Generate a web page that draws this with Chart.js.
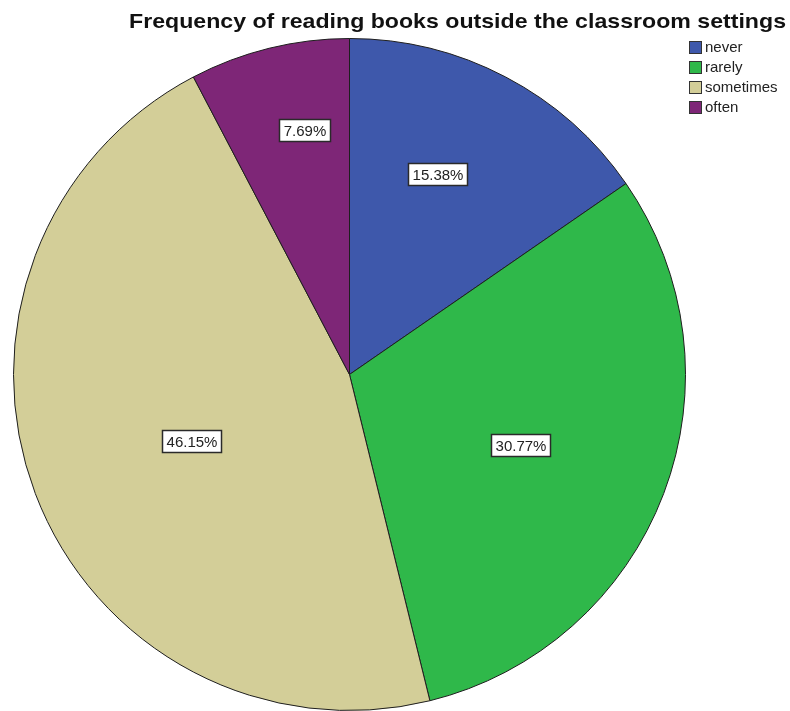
<!DOCTYPE html>
<html>
<head>
<meta charset="utf-8">
<script src="https://cdn.jsdelivr.net/npm/chart.js@4.4.1/dist/chart.umd.min.js"></script>
<style>
  html, body { margin: 0; padding: 0; background: #fff; }
  #wrap { width: 790px; height: 711px; }
</style>
</head>
<body>
<div id="wrap"><canvas id="pieChart" width="790" height="711"></canvas></div>
<script>
const title = 'Frequency of reading books outside the classroom settings';
const categories = ['never', 'rarely', 'sometimes', 'often'];
const percents = [15.38, 30.77, 46.15, 7.69];
const colors = ['#3e58ab', '#2fb84a', '#d3ce98', '#7e2677'];

// where each % box sits: fraction of radius and angle nudge (deg)
const labelSpots = [
  { r: 0.65, da: -4 },
  { r: 0.55, da: 1.5 },
  { r: 0.51, da: -2 },
  { r: 0.74, da: 3.5 }
];

const spssDecor = {
  id: 'spssDecor',
  afterDatasetsDraw(chart) {
    const ctx = chart.ctx;
    const meta = chart.getDatasetMeta(0);

    // percentage boxes
    ctx.save();
    ctx.font = '15px "Liberation Sans", Arial, sans-serif';
    ctx.textBaseline = 'middle';
    ctx.textAlign = 'center';
    meta.data.forEach((arc, i) => {
      const p = arc.getProps(['x', 'y', 'startAngle', 'endAngle', 'outerRadius']);
      const mid = (p.startAngle + p.endAngle) / 2 + labelSpots[i].da * Math.PI / 180;
      const rr = p.outerRadius * labelSpots[i].r;
      const x = p.x + Math.cos(mid) * rr;
      const y = p.y + Math.sin(mid) * rr;
      const txt = percents[i].toFixed(2) + '%';
      const w = Math.round(ctx.measureText(txt).width + 8);
      const h = 22;
      const bx = Math.round(x - w / 2), by = Math.round(y - h / 2);
      ctx.fillStyle = '#fff';
      ctx.fillRect(bx, by, w, h);
      ctx.strokeStyle = '#2a2a2a';
      ctx.lineWidth = 1.5;
      ctx.strokeRect(bx + 0.5, by + 0.5, w, h);
      ctx.fillStyle = '#222';
      ctx.fillText(txt, bx + w / 2 + 0.5, by + h / 2 + 1.5);
    });
    ctx.restore();

    // title, a bit wide like the original
    ctx.save();
    ctx.font = 'bold 21px "Liberation Sans", Arial, sans-serif';
    ctx.fillStyle = '#111';
    ctx.textBaseline = 'alphabetic';
    const tw = ctx.measureText(title).width;
    ctx.translate(129, 28);
    ctx.scale(657 / tw, 1);
    ctx.fillText(title, 0, 0);
    ctx.restore();

    // legend
    ctx.save();
    ctx.font = '15px "Liberation Sans", Arial, sans-serif';
    ctx.textBaseline = 'middle';
    categories.forEach((c, i) => {
      const y = 41 + i * 20;
      ctx.fillStyle = colors[i];
      ctx.fillRect(689.5, y + 0.5, 12, 12);
      ctx.strokeStyle = '#333';
      ctx.lineWidth = 1;
      ctx.strokeRect(689.5, y + 0.5, 12, 12);
      ctx.fillStyle = '#222';
      ctx.fillText(c, 705, y + 7);
    });
    ctx.restore();
  }
};

new Chart(document.getElementById('pieChart').getContext('2d'), {
  type: 'pie',
  data: {
    labels: categories,
    datasets: [{
      data: percents,
      backgroundColor: colors,
      borderColor: '#1e1e1e',
      borderWidth: 1
    }]
  },
  options: {
    responsive: false,
    animation: false,
    layout: { padding: { left: 11, right: 102, top: 38, bottom: 0 } },
    plugins: {
      legend: { display: false },
      title: { display: false },
      tooltip: { enabled: false }
    }
  },
  plugins: [spssDecor]
});
</script>
</body>
</html>
